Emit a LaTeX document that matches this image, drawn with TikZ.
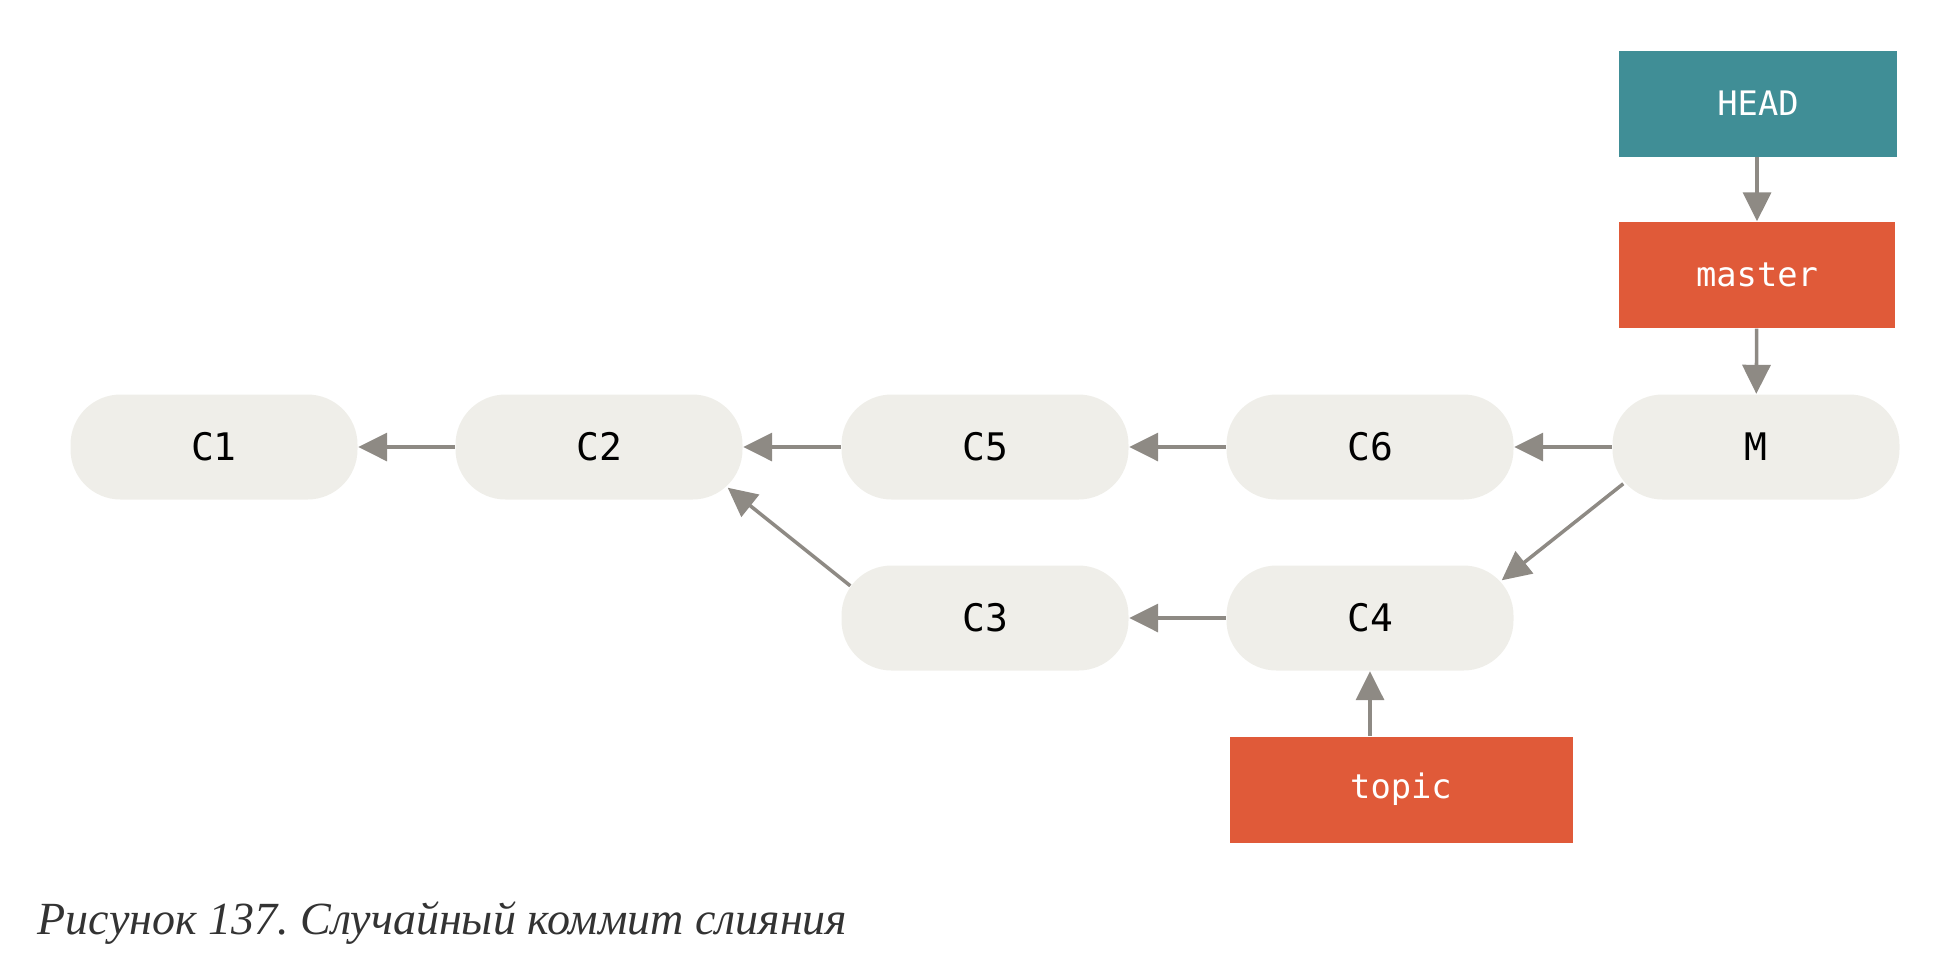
\documentclass[tikz,border=0pt]{standalone}
\usepackage{fontspec}
\setmainfont{Liberation Serif}
\newfontfamily\commitfont{DejaVu Sans Mono}
\usetikzlibrary{arrows.meta, positioning, calc}
\definecolor{commitfill}{HTML}{EFEEE9}
\definecolor{headteal}{HTML}{408E96}
\definecolor{branchred}{HTML}{E05A39}
\definecolor{linkgray}{HTML}{8E8A84}
\newcommand{\parentlink}[2]
{
	\draw[link] (#1) -- (#2)
}
\frenchspacing

\begin{document}
\begin{tikzpicture}[
			commit/.style={shape=rectangle,
				rounded corners=0.5cm,
				fill=commitfill,
				minimum width=2.87cm,
				minimum height=1.05cm,
				font=\commitfont\fontsize{10.8}{12}\selectfont},
			branchbox/.style={shape=rectangle,
				fill=#1,
				text=white,
				minimum height=1.06cm,
				font=\commitfont\fontsize{9.6}{11}\selectfont},
			link/.style={draw=linkgray, line width=1pt,
				-{Triangle[length=0.29cm, width=0.28cm]}}]
			\useasboundingbox (0, 0) rectangle (19.48, -9.78);
			
			\node[commit] at (2.14, -4.47) (C1){C1};
			\node[commit] at (5.99, -4.47) (C2){C2};
			\node[commit] at (9.85, -4.47) (C5){C5};
			\node[commit] at (13.70, -4.47) (C6){C6};
			\node[commit] at (17.56, -4.47) (M){M};
			\node[commit] at (9.85, -6.18) (C3){C3};
			\node[commit] at (13.70, -6.18) (C4){C4};
			
			\node[branchbox=headteal, minimum width=2.78cm] at (17.58, -1.035) (HEAD){HEAD};
			\node[branchbox=branchred, minimum width=2.76cm] at (17.57, -2.75) (master){master};
			\node[branchbox=branchred, minimum width=3.43cm] at (14.01, -7.895) (topic){topic};
			
			\parentlink{C2}{C1};
			\parentlink{C5}{C2};
			\parentlink{C6}{C5};
			\parentlink{M}{C6};
			\parentlink{C4}{C3};
			\parentlink{[xshift=0.095cm, yshift=-0.21cm]C3.north west}{[xshift=-0.155cm, yshift=0.125cm]C2.south east};
			\parentlink{[xshift=0.115cm, yshift=0.165cm]M.south west}{[xshift=-0.125cm, yshift=-0.155cm]C4.north east};
			\parentlink{HEAD.south -| master}{master.north};
			\parentlink{master}{M};
			\parentlink{topic.north -| C4}{C4.south};
			
			\node[anchor=base west, inner sep=0, text=black!80,
				font=\itshape\fontsize{13.1}{15}\selectfont] at (0.37, -9.34) (caption)
				{Рисунок 137. Случайный коммит слияния};
		\end{tikzpicture}
\end{document}
